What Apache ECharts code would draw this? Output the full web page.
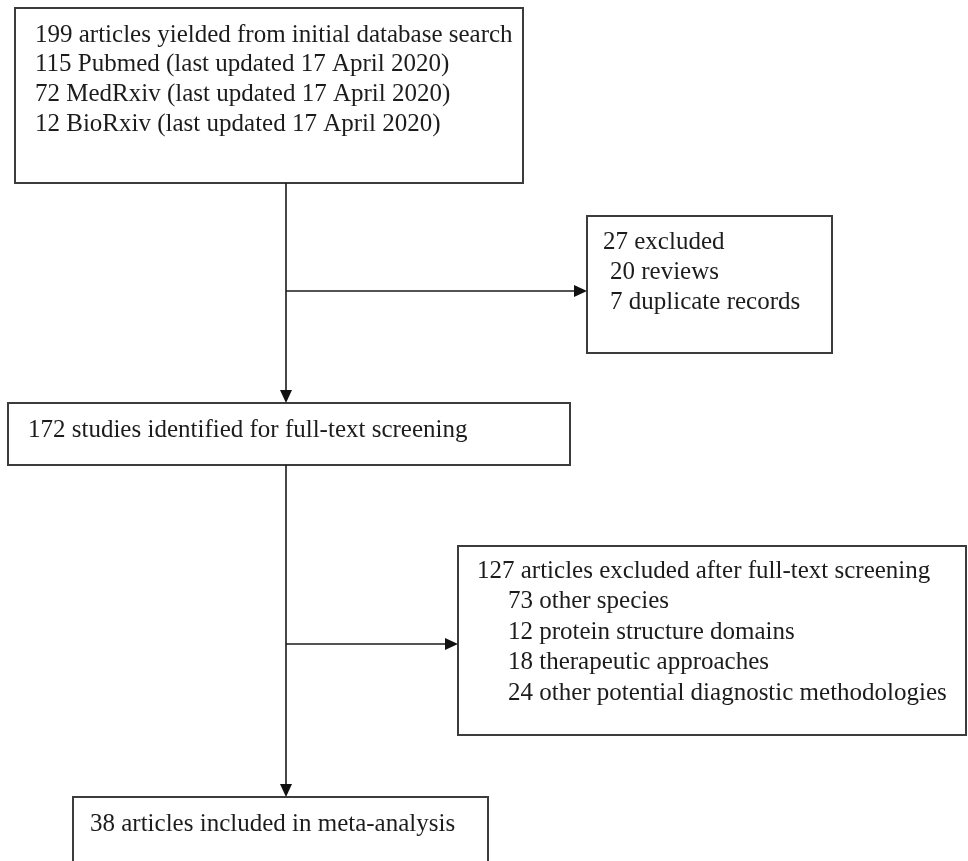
<!DOCTYPE html>
<html>
<head>
<meta charset="utf-8">
<script src="https://cdn.jsdelivr.net/npm/echarts@6/dist/echarts.min.js"></script>
<style>
  html, body { margin: 0; background: #fff; }
  #chart { width: 968px; height: 861px; }
</style>
</head>
<body>
<div id="chart"></div>
<script>
// counts
const sourceNames = ['Pubmed', 'MedRxiv', 'BioRxiv'];
const sourceCounts = [115, 72, 12];
const lastUpdated = '17 April 2020';
const stageCounts = [199, 172, 38];
const firstExclReasons = ['reviews', 'duplicate records'];
const firstExclCounts = [20, 7];
const secondExclReasons = ['other species', 'protein structure domains', 'therapeutic approaches', 'other potential diagnostic methodologies'];
const secondExclCounts = [73, 12, 18, 24];

const sum = arr => arr.reduce((a, b) => a + b, 0);

// box layout in page coords: [x0, y0, x1, y1]
const boxes = [
  [15, 8, 523, 183],
  [587, 216, 832, 353],
  [8, 403, 570, 465],
  [458, 546, 966, 735],
  [73, 797, 488, 900]
];
// text layout per box: [padX, firstY, lineGap, indent]
const textLayout = [
  [20, 35, 29.7, 0],
  [16, 242, 30, 7],
  [20, 430, 30, 0],
  [19, 571, 30.5, 31],
  [17, 824, 30, 0]
];
// arrows: [x0, y0, x1, y1] (head at end)
const trunkX = 286;
const arrows = [
  [trunkX, 183, trunkX, 403],
  [trunkX, 291, 587, 291],
  [trunkX, 465, trunkX, 797],
  [trunkX, 644, 458, 644]
];

// box texts: [text, indented?]
const boxTexts = [
  [[stageCounts[0] + ' articles yielded from initial database search', false]].concat(
    sourceNames.map((s, i) => [sourceCounts[i] + ' ' + s + ' (last updated ' + lastUpdated + ')', false])),
  [[sum(firstExclCounts) + ' excluded', false]].concat(
    firstExclReasons.map((r, i) => [firstExclCounts[i] + ' ' + r, true])),
  [[stageCounts[1] + ' studies identified for full-text screening', false]],
  [[sum(secondExclCounts) + ' articles excluded after full-text screening', false]].concat(
    secondExclReasons.map((r, i) => [secondExclCounts[i] + ' ' + r, true])),
  [[stageCounts[2] + ' articles included in meta-analysis', false]]
];

const textItems = [];
boxTexts.forEach((lines, b) => {
  const [padX, firstY, gap, indent] = textLayout[b];
  lines.forEach((ln, i) => {
    textItems.push({
      x: boxes[b][0] + padX + (ln[1] ? indent : 0),
      y: firstY + i * gap,
      text: ln[0]
    });
  });
});

const chart = echarts.init(document.getElementById('chart'));

chart.setOption({
  animation: false,
  grid: { left: 0, right: 0, top: 0, bottom: 0 },
  xAxis: { type: 'value', min: 0, max: 968, show: false },
  yAxis: { type: 'value', min: 0, max: 861, inverse: true, show: false },
  series: [
    {
      // boxes
      type: 'custom',
      data: boxes,
      renderItem: function (params, api) {
        const p0 = api.coord([api.value(0), api.value(1)]);
        const p1 = api.coord([api.value(2), api.value(3)]);
        return {
          type: 'rect',
          shape: { x: p0[0], y: p0[1], width: p1[0] - p0[0], height: p1[1] - p0[1] },
          style: { fill: '#fff', stroke: '#3c3c3c', lineWidth: 2 }
        };
      }
    },
    {
      // connector arrows
      type: 'custom',
      data: arrows,
      renderItem: function (params, api) {
        const a = api.coord([api.value(0), api.value(1)]);
        const b = api.coord([api.value(2), api.value(3)]);
        const dx = b[0] - a[0], dy = b[1] - a[1];
        const len = Math.sqrt(dx * dx + dy * dy);
        const ux = dx / len, uy = dy / len;
        const hl = 13, hw = 6;
        const base = [b[0] - ux * hl, b[1] - uy * hl];
        return {
          type: 'group',
          children: [
            {
              type: 'line',
              shape: { x1: a[0], y1: a[1], x2: base[0], y2: base[1] },
              style: { stroke: '#1a1a1a', lineWidth: 1.6 }
            },
            {
              type: 'polygon',
              shape: {
                points: [
                  b,
                  [base[0] - uy * hw, base[1] + ux * hw],
                  [base[0] + uy * hw, base[1] - ux * hw]
                ]
              },
              style: { fill: '#111' }
            }
          ]
        };
      }
    },
    {
      // box text
      type: 'custom',
      data: textItems.map(t => [t.x, t.y]),
      renderItem: function (params, api) {
        const p = api.coord([api.value(0), api.value(1)]);
        return {
          type: 'text',
          x: p[0],
          y: p[1],
          style: {
            text: textItems[params.dataIndex].text,
            fill: '#1c1c1c',
            font: '25px "Liberation Serif"',
            textAlign: 'left',
            textVerticalAlign: 'middle'
          }
        };
      }
    }
  ]
});
</script>
</body>
</html>
